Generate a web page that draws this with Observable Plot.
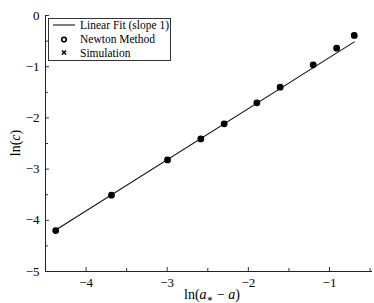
<!DOCTYPE html>
<html>
<head>
<meta charset="utf-8">
<script src="https://cdn.jsdelivr.net/npm/d3@7"></script>
<script src="https://cdn.jsdelivr.net/npm/@observablehq/plot@0.6"></script>
<style>
  body { margin: 0; background: #fff; }
  svg { font-family: "Liberation Serif", "DejaVu Serif", serif; }
</style>
</head>
<body>
<div id="chart"></div>
<script>
// data
const pointX = [-4.374, -3.687, -2.996, -2.586, -2.298, -1.895, -1.608, -1.201, -0.912, -0.695];
const pointY = [-4.20, -3.51, -2.82, -2.41, -2.115, -1.705, -1.40, -0.963, -0.639, -0.39];
const fitX = [-4.374, -0.695];
const fitY = [-4.19, -0.515];
const xTicks = [-4, -3, -2, -1];
const xMinor = [-3.5, -2.5, -1.5, -0.5];
const yTicks = [-5, -4, -3, -2, -1, 0];
const yMinor = [-4.5, -3.5, -2.5, -1.5, -0.5];
const legendLabels = ["Linear Fit (slope 1)", "Newton Method", "Simulation"];

const points = pointX.map((x, i) => ({x, y: pointY[i]}));
const fit = fitX.map((x, i) => ({x, y: fitY[i]}));
const fmt = d3.format("d");

const W = 374, H = 303;
const chart = Plot.plot({
  width: W, height: H,
  marginLeft: 45, marginRight: 2, marginTop: 15, marginBottom: 32,
  style: {fontFamily: "'Liberation Serif', 'DejaVu Serif', serif", fontSize: "13px", color: "#000", background: "#fff"},
  x: {domain: [-4.5, -0.47]},
  y: {domain: [-5, 0]},
  marks: [
    Plot.axisX({ticks: xTicks, tickSize: 0, tickPadding: 6, tickFormat: fmt, label: null, fontSize: 13}),
    Plot.axisX({ticks: xTicks, tickSize: -4, text: null, label: null, stroke: "#333"}),
    Plot.axisX({ticks: xMinor, tickSize: -3, text: null, label: null, stroke: "#333"}),
    Plot.axisY({ticks: yTicks, tickSize: 0, tickPadding: 6, tickFormat: fmt, label: null, fontSize: 13}),
    Plot.axisY({ticks: yTicks, tickSize: -4, text: null, label: null, stroke: "#333"}),
    Plot.axisY({ticks: yMinor, tickSize: -3, text: null, label: null, stroke: "#333"}),
    Plot.ruleX([-4.5], {stroke: "#222"}),
    Plot.ruleY([-5], {stroke: "#222"}),
    Plot.line(fit, {x: "x", y: "y", stroke: "#111", strokeWidth: 1.1}),
    Plot.dot(points, {x: "x", y: "y", r: 2.6, stroke: "#000", strokeWidth: 1.6, fill: "none"}),
    Plot.dot(points, {x: "x", y: "y", r: 2.2, symbol: "times", stroke: "#000", strokeWidth: 1.4}),
    Plot.dot(points, {x: "x", y: "y", r: 2.4, fill: "#000"})
  ]
});
document.getElementById("chart").appendChild(chart);

const svg = d3.select(chart);
// axis labels
const xl = svg.append("text").attr("x", 212).attr("y", 299).attr("text-anchor", "middle")
  .attr("font-size", 14).attr("fill", "#000");
xl.append("tspan").text("ln(");
xl.append("tspan").attr("font-style", "italic").text("a");
xl.append("tspan").attr("font-size", 10).attr("dy", 3).text("∗");
xl.append("tspan").attr("dy", -3).text(" − ");
xl.append("tspan").attr("font-style", "italic").text("a");
xl.append("tspan").text(")");

const yl = svg.append("text").attr("transform", "translate(20,143) rotate(-90)").attr("text-anchor", "middle")
  .attr("font-size", 14).attr("fill", "#000");
yl.append("tspan").text("ln(");
yl.append("tspan").attr("font-style", "italic").text("c");
yl.append("tspan").text(")");

// legend
const lg = svg.append("g").attr("font-size", 11.5).attr("fill", "#000").attr("text-anchor", "start");
lg.append("rect").attr("x", 48.5).attr("y", 18.5).attr("width", 122).attr("height", 42)
  .attr("fill", "#fff").attr("stroke", "#333").attr("stroke-width", 1);
lg.append("line").attr("x1", 53).attr("x2", 75).attr("y1", 25).attr("y2", 25).attr("stroke", "#111").attr("stroke-width", 1.1);
lg.append("circle").attr("cx", 64).attr("cy", 39.5).attr("r", 2.3).attr("fill", "none").attr("stroke", "#000").attr("stroke-width", 1.6);
lg.append("path").attr("d", "M62,50.5L66,54.5M66,50.5L62,54.5").attr("stroke", "#000").attr("stroke-width", 1.6);
legendLabels.forEach((t, i) => {
  lg.append("text").attr("x", 80).attr("y", 29 + i * 14.2).attr("fill", "#000")
    .attr("text-anchor", "start").text(t);
});
</script>
</body>
</html>
